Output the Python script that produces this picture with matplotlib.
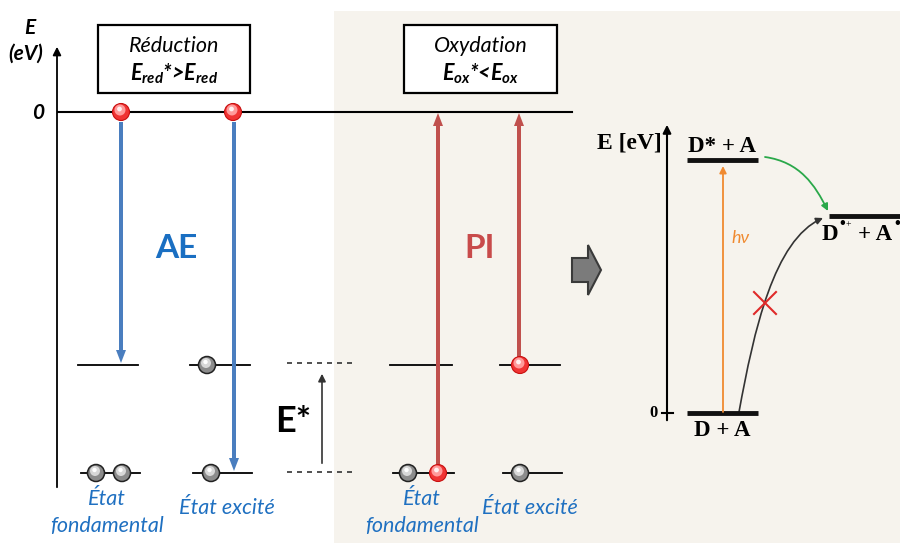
import numpy as np
import matplotlib
matplotlib.use("Agg")
import matplotlib.pyplot as plt
from matplotlib.patches import Rectangle, Circle, FancyArrowPatch, Polygon
from matplotlib.path import Path

plt.rcParams['font.family'] = ['Lato', 'DejaVu Sans']
plt.rcParams['mathtext.fontset'] = 'custom'
plt.rcParams['mathtext.it'] = 'Lato:italic:bold'
plt.rcParams['mathtext.rm'] = 'Lato:italic:bold'

# --- energy levels of the left scheme (pixel rows) ---
y_zero = 112
y_up = 365          # excited orbital level
y_low = 473         # ground orbital level

# columns: (x_left, x_right) of level bars
ae_cols = {'fond': (78, 138), 'exc': (190, 250)}
pi_cols = {'fond': (390, 452), 'exc': (500, 560)}

# electrons : (x, level, kind)
electrons = [
    (121, y_zero, 'red'), (233, y_zero, 'red'),
    (96, y_low, 'grey'), (122, y_low, 'grey'),
    (207, y_up, 'grey'), (211, y_low, 'grey'),
    (408, y_low, 'grey'), (438, y_low, 'red'),
    (520, y_up, 'red'), (520, y_low, 'grey'),
]

blue = '#4a7ebf'
red = '#c0504d'
txt_blue = '#1f70c1'

fig = plt.figure(figsize=(9, 5.43), dpi=100)
ax = fig.add_axes([0, 0, 1, 1])
ax.set_xlim(0, 900)
ax.set_ylim(543, 0)
ax.axis('off')

# shaded background of the right part
ax.add_patch(Rectangle((334, 11), 566, 532, fc='#f6f3ed', ec='none', zorder=0))

# left axis
ax.annotate('', xy=(57, 44), xytext=(57, 490),
            arrowprops=dict(arrowstyle='-|>', lw=1.3, color='black',
                            mutation_scale=12), zorder=2)
ax.text(30, 28, 'E', fontsize=15, fontweight='bold', style='italic', ha='center', va='center')
ax.text(26, 54, '(eV)', fontsize=15, fontweight='bold', style='italic', ha='center', va='center')
ax.text(38, 113, '0', fontsize=15, fontweight='bold', style='italic', ha='center', va='center')
ax.plot([58, 572], [y_zero, y_zero], color='black', lw=1.5, zorder=2)

# boxes
for x0, x1, t1, t2 in [(98, 250, 'Réduction', r'$E_{red}$*>$E_{red}$'),
                       (404, 557, 'Oxydation', r'$E_{ox}$*<$E_{ox}$')]:
    ax.add_patch(Rectangle((x0, 25), x1 - x0, 68, fc='white', ec='black', lw=1.6, zorder=3))
    xc = (x0 + x1) / 2
    ax.text(xc, 46, t1, fontsize=15.5, style='italic', ha='center', va='center', zorder=4)
    ax.text(xc, 74, t2, fontsize=15.5, fontweight='bold', style='italic',
            ha='center', va='center', zorder=4)

# level bars
for cols in (ae_cols, pi_cols):
    for key, (x0, x1) in cols.items():
        ax.plot([x0, x1], [y_up, y_up], color='black', lw=1.3, zorder=2)
        ax.plot([x0 + 3, x1 + 2], [y_low, y_low], color='black', lw=1.3, zorder=2)

# dashed reference lines + E*
for yy in (y_up - 2, y_low - 1):
    ax.plot([287, 352], [yy, yy], color='#333333', lw=1.2, ls=(0, (3, 3)), zorder=2)
ax.annotate('', xy=(322, 371), xytext=(322, 466),
            arrowprops=dict(arrowstyle='-|>', lw=1.2, color='#333333', mutation_scale=11))
ax.text(293, 421, 'E*', fontsize=26, fontweight='bold', ha='center', va='center')

# blue arrows (AE) going down, red arrows (PI) going up
def thick_arrow(x, y0, y1, color):
    ax.arrow(x, y0, 0, y1 - y0, width=4, head_width=10, head_length=13,
             length_includes_head=True, fc=color, ec='none', zorder=3)

thick_arrow(121, 122, 363, blue)
thick_arrow(234, 122, 471, blue)
thick_arrow(438, 464, 113, red)
thick_arrow(519, 357, 113, red)

ax.text(176, 248, 'AE', fontsize=24, fontweight='bold', color='#1a6fc2', ha='center', va='center')
ax.text(480, 248, 'PI', fontsize=24, fontweight='bold', color='#c84b4b', ha='center', va='center')

# electrons
def ball(x, y, kind):
    if kind == 'red':
        ax.add_patch(Circle((x, y), 8.5, fc='#f03434', ec='#c81010', lw=0.8, zorder=5))
        ax.add_patch(Circle((x - 1, y - 2), 5.5, fc='#ff9a9a', ec='none', zorder=5))
        ax.add_patch(Circle((x - 1.5, y - 3), 2.4, fc='#fff0f0', ec='none', zorder=5))
    else:
        ax.add_patch(Circle((x, y), 8.5, fc='#8c8c8c', ec='#222222', lw=1.1, zorder=5))
        ax.add_patch(Circle((x - 1, y - 2), 5, fc='#d8d8d8', ec='none', zorder=5))
        ax.add_patch(Circle((x - 1.5, y - 3), 2.2, fc='white', ec='none', zorder=5))

for x, y, k in electrons:
    ball(x, y, k)

# state labels
for xc in (107, 422):
    ax.text(xc, 499, 'État', fontsize=15.5, style='italic', color=txt_blue, ha='center', va='center')
    ax.text(xc, 526, 'fondamental', fontsize=15.5, style='italic', color=txt_blue,
            ha='center', va='center')
for xc in (227, 530):
    ax.text(xc, 508, 'État excité', fontsize=15.5, style='italic', color=txt_blue,
            ha='center', va='center')

# grey block arrow
ax.add_patch(Polygon([(572, 258), (588, 258), (588, 245), (601, 270), (588, 295),
                      (588, 282), (572, 282)], closed=True, fc='#7b7b7b', ec='#3a3a3a',
                     lw=1.5, zorder=3))

# --- right scheme ---
serif = ['Liberation Serif', 'DejaVu Serif']
ax.annotate('', xy=(667, 122), xytext=(667, 423),
            arrowprops=dict(arrowstyle='-|>', lw=1.5, color='black', mutation_scale=12))
ax.plot([662, 673], [413, 413], color='black', lw=1.5)
ax.text(653, 413, '0', family=serif, fontsize=12, fontweight='bold', ha='center', va='center')
ax.text(629, 143, 'E [eV]', family=serif, fontsize=17, fontweight='bold', ha='center', va='center')

ax.plot([687, 758], [160, 160], color='#111111', lw=3.5, solid_capstyle='butt')
ax.plot([687, 758], [413, 413], color='#111111', lw=3.5, solid_capstyle='butt')
ax.plot([829, 900], [216, 216], color='#111111', lw=3.5, solid_capstyle='butt')
ax.text(722, 146, 'D* + A', family=serif, fontsize=16.5, fontweight='bold', ha='center', va='center')
ax.text(722, 430, 'D + A', family=serif, fontsize=16.5, fontweight='bold', ha='center', va='center')
ax.text(822, 234, 'D', family=serif, fontsize=16.5, fontweight='bold', ha='left', va='center')
ax.text(839, 224, '•', family=serif, fontsize=12, fontweight='bold', ha='left', va='center')
ax.text(846, 225, '+', family=serif, fontsize=7, ha='left', va='center')
ax.text(858, 234, '+ A', family=serif, fontsize=16.5, fontweight='bold', ha='left', va='center')
ax.text(894, 224, '•', family=serif, fontsize=12, fontweight='bold', ha='left', va='center')

# photon
ax.annotate('', xy=(723, 166), xytext=(723, 412),
            arrowprops=dict(arrowstyle='-|>', lw=1.3, color='#f08a30', mutation_scale=10,
                            shrinkA=0, shrinkB=0))
ax.text(741, 238, 'hν', fontsize=13, style='italic', color='#f08a30', ha='center', va='center')

# electron transfer (green) and back path (black, blocked)
green_path = Path([(765, 157), (800, 162), (815, 185), (828, 211)],
                  [Path.MOVETO, Path.CURVE4, Path.CURVE4, Path.CURVE4])
ax.add_patch(FancyArrowPatch(path=green_path, arrowstyle='-|>', color='#2aa84a', lw=1.3,
                             mutation_scale=10))
black_path = Path([(739, 412), (754, 330), (774, 240), (823, 218)],
                  [Path.MOVETO, Path.CURVE4, Path.CURVE4, Path.CURVE4])
ax.add_patch(FancyArrowPatch(path=black_path, arrowstyle='-|>', color='#333333', lw=1.2,
                             mutation_scale=10))
ax.plot([754, 776], [292, 314], color='#e02a2a', lw=1.5)
ax.plot([754, 776], [314, 292], color='#e02a2a', lw=1.5)

fig.savefig('out.png', dpi=100)
